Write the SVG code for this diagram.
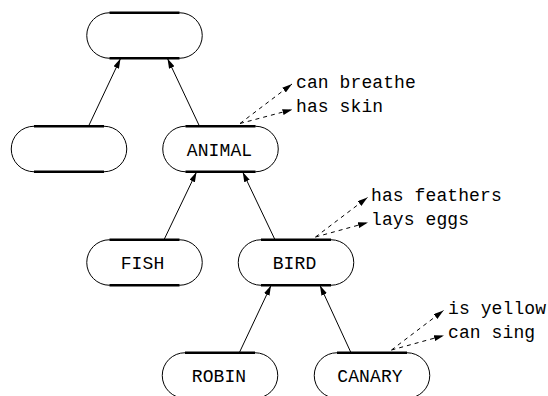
<svg xmlns="http://www.w3.org/2000/svg" width="548" height="396" viewBox="0 0 548 396">
  <defs>
    <marker id="arrow" viewBox="0 0 10 6" refX="10" refY="3" markerWidth="10" markerHeight="6" markerUnits="userSpaceOnUse" orient="auto">
      <path d="M0,0 L10,3 L0,6 z" fill="#000"/>
    </marker>
  </defs>
  <style>
    .shell { fill: #fff; stroke: #000; stroke-width: 1; }
    .edge { stroke: #000; stroke-width: 2.6; }
    .label { font-family: "Liberation Mono", "DejaVu Sans Mono", monospace; font-size: 18px; letter-spacing: 0.1px; fill: #000; }
    .link { stroke: #000; stroke-width: 1; fill: none; marker-end: url(#arrow); }
    .prop { stroke: #000; stroke-width: 1; fill: none; stroke-dasharray: 4 4; marker-end: url(#arrow); }
  </style>

  <rect width="548" height="396" fill="#fff"/>

  <!-- is-a links (child -> parent) -->
  <g id="connectors">
    <line class="link" x1="88.5" y1="126.25" x2="120.5" y2="58.5"/>
    <line class="link" x1="199.5" y1="126.25" x2="167.5" y2="58.5"/>
    <line class="link" x1="164" y1="239.75" x2="196.5" y2="172"/>
    <line class="link" x1="275" y1="239.75" x2="242.7" y2="172"/>
    <line class="link" x1="239.3" y1="352.75" x2="271" y2="285.5"/>
    <line class="link" x1="351" y1="352.75" x2="320" y2="285.5"/>
    <!-- property links -->
    <line class="prop" x1="240" y1="123.5" x2="292" y2="84"/>
    <line class="prop" x1="240" y1="123.5" x2="292.5" y2="109.5"/>
    <line class="prop" x1="315.5" y1="237" x2="367.5" y2="197.5"/>
    <line class="prop" x1="315.5" y1="237" x2="368" y2="222.5"/>
    <line class="prop" x1="391.5" y1="350" x2="443.5" y2="310.5"/>
    <line class="prop" x1="391.5" y1="350" x2="444" y2="335.5"/>
  </g>

  <g id="root" transform="translate(144.5,35.5)">
    <rect class="shell" x="-57.75" y="-22.75" width="115.5" height="45.5" rx="22.75"/>
    <line class="edge" x1="-35" y1="-22.75" x2="35" y2="-22.75"/>
    <line class="edge" x1="-35" y1="22.75" x2="35" y2="22.75"/>
  </g>

  <g id="blank" transform="translate(69,149)">
    <rect class="shell" x="-57.75" y="-22.75" width="115.5" height="45.5" rx="22.75"/>
    <line class="edge" x1="-35" y1="-22.75" x2="35" y2="-22.75"/>
    <line class="edge" x1="-35" y1="22.75" x2="35" y2="22.75"/>
  </g>

  <g id="animal" transform="translate(220.5,149)">
    <rect class="shell" x="-57.75" y="-22.75" width="115.5" height="45.5" rx="22.75"/>
    <line class="edge" x1="-35" y1="-22.75" x2="35" y2="-22.75"/>
    <line class="edge" x1="-35" y1="22.75" x2="35" y2="22.75"/>
    <text class="label" x="-1" y="6.5" text-anchor="middle">ANIMAL</text>
  </g>

  <g id="fish" transform="translate(144.5,262.5)">
    <rect class="shell" x="-57.75" y="-22.75" width="115.5" height="45.5" rx="22.75"/>
    <line class="edge" x1="-35" y1="-22.75" x2="35" y2="-22.75"/>
    <line class="edge" x1="-35" y1="22.75" x2="35" y2="22.75"/>
    <text class="label" x="-2" y="6.5" text-anchor="middle">FISH</text>
  </g>

  <g id="bird" transform="translate(296,262.5)">
    <rect class="shell" x="-57.75" y="-22.75" width="115.5" height="45.5" rx="22.75"/>
    <line class="edge" x1="-35" y1="-22.75" x2="35" y2="-22.75"/>
    <line class="edge" x1="-35" y1="22.75" x2="35" y2="22.75"/>
    <text class="label" x="-1.5" y="6.5" text-anchor="middle">BIRD</text>
  </g>

  <g id="robin" transform="translate(220,375.5)">
    <rect class="shell" x="-57.75" y="-22.75" width="115.5" height="45.5" rx="22.75"/>
    <line class="edge" x1="-35" y1="-22.75" x2="35" y2="-22.75"/>
    <line class="edge" x1="-35" y1="22.75" x2="35" y2="22.75"/>
    <text class="label" x="-1" y="6.5" text-anchor="middle">ROBIN</text>
  </g>

  <g id="canary" transform="translate(372,375.5)">
    <rect class="shell" x="-57.75" y="-22.75" width="115.5" height="45.5" rx="22.75"/>
    <line class="edge" x1="-35" y1="-22.75" x2="35" y2="-22.75"/>
    <line class="edge" x1="-35" y1="22.75" x2="35" y2="22.75"/>
    <text class="label" x="-2" y="6.5" text-anchor="middle">CANARY</text>
  </g>

  <!-- property labels -->
  <g id="animal-props">
    <text class="label" x="296" y="88">can breathe</text>
    <text class="label" x="296" y="111.5">has skin</text>
  </g>
  <g id="bird-props">
    <text class="label" x="371" y="201">has feathers</text>
    <text class="label" x="371" y="224.5">lays eggs</text>
  </g>
  <g id="canary-props">
    <text class="label" x="448" y="314">is yellow</text>
    <text class="label" x="448" y="337.5">can sing</text>
  </g>
</svg>
